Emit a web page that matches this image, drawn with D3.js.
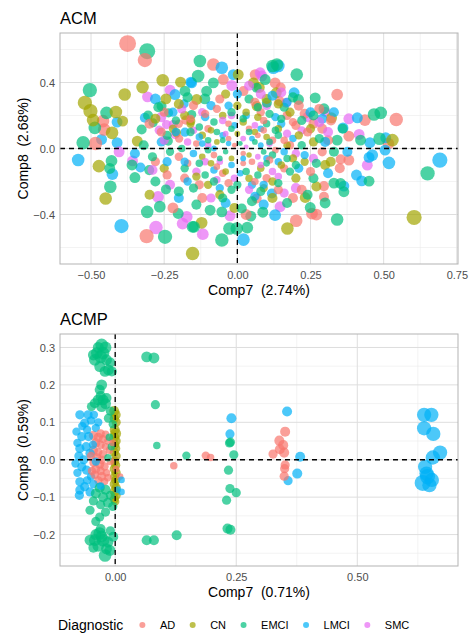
<!DOCTYPE html>
<html><head><meta charset="utf-8">
<script src="https://cdn.jsdelivr.net/npm/d3@7"></script>
<style>body{margin:0;background:#fff} svg{display:block} text{font-family:"Liberation Sans",Arial,Helvetica,sans-serif}</style>
</head><body>
<svg id="chart" width="471" height="635"></svg>
<script>
// ---------- DATA ----------
const diagnostics = ["AD","CN","EMCI","LMCI","SMC"];
const legendTitle = "Diagnostic";

// ACM panel: [Comp7, Comp8, weight]
const acmAD = [[-0.375,0.636,8.5],[-0.316,0.536,7],[-0.459,0.166,6],[-0.455,0.115,6],[-0.485,0.030,6.5],[-0.082,0.509,6],[-0.048,0.418,5],[0.061,0.448,5],[0.129,0.398,5],[0.148,0.37,4.5],[0.021,0.348,4.5],[0.144,0.287,4.5],[0.341,0.327,5.5],[0.436,0.172,5.5],[0.543,0.176,6.5],[0.381,0.075,5],[0.516,0.030,5.5],[0.296,-0.293,4.5],[0.296,-0.228,4.5],[0.381,-0.070,5],[0.353,-0.066,4.5],[-0.310,-0.531,7],[0.201,-0.438,6],[0.255,-0.394,5.5],[0.27,-0.40,5.5],[0.066,-0.303,4.5],[-0.176,0.172,4],[-0.199,0.06,3.5],
[0.23,0.21,4.5],[0.26,0.15,4.5],[0.20,0.14,4],[0.17,0.20,4],[0.29,0.12,4.5],[0.31,0.05,4.5],[0.12,0.05,3],[0.16,-0.12,3.5],[-0.12,-0.30,4.5],[-0.20,-0.05,3.5],[-0.10,0.12,3],[0.05,-0.08,2.5],[-0.05,-0.15,3],[0.22,-0.25,4.5],[-0.25,0.22,4],[-0.15,0.26,4],[-0.07,0.24,3.5],[0.08,0.22,3.5],[0.04,0.12,2.5],[-0.03,0.06,2],[0.02,-0.03,1.8],[-0.08,-0.04,2.5],[0.10,-0.18,3.5],[-0.18,-0.18,4],[-0.28,-0.08,4],[0.35,-0.12,4.5],[0.29,-0.02,4],[0.18,0.02,3.5],[-0.22,-0.36,5],[0.03,-0.40,5],[0.14,-0.25,4],[0.28,0.24,4.5],[-0.30,0.15,4.5],[0.24,0.10,4],[0.32,0.17,4.5],
[-0.14,0.03,2.5],[0.07,0.08,2],[-0.03,0.15,2.5],[0.13,-0.01,2.5],[-0.07,-0.11,2.5],[0.02,-0.09,2],[0.09,0.17,3],[-0.17,-0.09,3],[0.16,0.05,3],[-0.11,0.21,3.5],[0.06,-0.20,3],[-0.01,0.02,1.5],[0.19,0.16,3.5],[-0.20,0.15,3.5],
[-0.26,0.10,4],[-0.16,0.18,3.5],[0.06,0.28,4],[0.21,0.26,4.5],[0.11,-0.07,3],[-0.03,-0.21,3.5],[0.25,-0.14,4],[-0.13,-0.22,4],[0.19,-0.30,4.5],[-0.24,-0.16,4],[0.09,0.11,2.5],[-0.06,0.30,4]];
const acmCN = [[-0.521,0.277,7],[-0.502,0.227,7],[-0.385,0.327,6],[-0.324,0.372,6],[-0.255,0.414,6],[-0.493,0.172,6],[-0.415,0.221,6],[-0.392,0.166,5],[-0.428,0.095,6],[-0.342,0.045,5],[-0.244,0.301,5],[-0.194,0.402,5],[-0.208,0.095,4],[-0.159,0.166,4],[0.003,0.448,5],[0.055,0.398,5],[0.075,0.37,5],[0.133,0.338,5],[0.066,0.257,4.5],[0.322,0.186,5],[0.530,0.051,6],[0.319,-0.080,4.5],[0.604,-0.418,7.5],[-0.473,-0.107,6],[-0.450,-0.303,6],[-0.153,-0.636,6.5],[-0.122,-0.450,5.5],[0.171,-0.485,6],[0.232,-0.297,5],[-0.139,0.297,5],
[0.10,0.30,4.5],[0.18,0.22,4],[0.25,0.12,4],[-0.05,0.20,3],[-0.12,0.08,3],[0.06,0.10,2.5],[-0.02,-0.06,2],[0.08,-0.12,3],[-0.10,-0.22,3.5],[0.12,-0.30,4.5],[-0.25,-0.12,4],[0.20,-0.18,4],[0.30,-0.10,4.5],[-0.18,0.20,4],[0.00,0.26,3.5],[0.14,0.12,3],[-0.06,-0.28,4],[-0.30,-0.28,4.5],[0.04,-0.18,3],[-0.22,0.12,3.5],[0.26,0.04,4],[0.02,0.16,3],[-0.01,-0.36,4.5],[0.19,-0.06,3.5],
[-0.07,0.04,2],[0.04,-0.04,1.8],[0.10,0.07,2.5],[-0.12,-0.05,2.5],[0.00,0.09,2],[0.15,-0.10,3],[-0.04,-0.14,2.5],[0.07,0.19,3],[-0.16,0.15,3.5],[0.12,-0.20,3.5],[-0.09,0.11,2.5],[0.17,0.02,3],
[-0.28,0.18,4.5],[0.21,0.08,3.5],[-0.14,-0.17,3.5],[0.09,-0.24,3.5],[-0.20,0.27,4.5],[0.27,-0.23,4.5],[0.14,0.27,4],[-0.04,0.33,4],[0.23,-0.08,3.5],[-0.09,-0.09,2.5],[0.03,0.22,3]];
const acmEMCI = [[-0.308,0.590,8],[-0.504,0.354,7],[-0.447,0.216,6],[-0.487,0.125,6],[-0.527,0.035,6.5],[-0.327,0.115,4.5],[-0.305,0.200,4.5],[-0.288,0.156,4],[-0.259,0.257,4.5],[-0.179,0.348,5],[-0.235,0.216,4],[-0.236,0.045,4],[-0.156,0.206,4],[-0.128,0.530,6],[-0.134,0.439,6],[-0.082,0.398,5],[-0.105,0.348,5],[-0.111,0.301,5],[0.095,0.418,5],[0.135,0.509,6],[0.12,0.50,6],[0.203,0.448,6],[0.066,0.368,4.5],[0.209,0.297,5],[0.266,0.307,5],[0.101,0.277,4.5],[0.296,0.241,5],[0.467,0.206,6],[0.490,0.216,6],[0.421,0.051,5],[0.486,0.059,6],[0.341,0.051,5],[0.650,-0.151,7],[0.341,-0.430,6],[0.450,-0.198,5],[0.353,-0.212,5],[0.364,-0.262,5],[-0.430,-0.075,5.5],[-0.436,-0.121,5],[-0.434,-0.232,6],[-0.308,-0.384,6],[-0.247,-0.535,7],[-0.265,-0.353,5.5],[-0.350,-0.176,5],[-0.244,-0.248,4.5],[-0.202,-0.394,5],[-0.153,-0.475,5.5],[-0.301,-0.131,4.5],[-0.053,-0.555,6.5],[-0.148,-0.475,5.5],[-0.002,-0.485,6],[-0.027,-0.485,6],[0.034,-0.479,5.5],[0.087,-0.386,5],[0.046,-0.410,5],[-0.053,-0.384,5],[-0.093,-0.374,5],[0.249,-0.358,5],[0.015,-0.364,4.5],[0.30,-0.33,5],
[-0.02,0.22,3.5],[0.04,0.30,4],[0.16,0.25,4],[0.22,0.17,4],[0.10,0.15,3],[-0.08,0.16,3],[-0.16,0.10,3.5],[-0.24,0.08,4],[0.06,0.04,2],[-0.04,-0.02,1.8],[0.12,-0.04,3],[-0.13,-0.09,3],[0.03,-0.14,3],[0.18,-0.14,3.5],[-0.08,-0.20,3.5],[0.08,-0.26,4],[-0.20,-0.26,4.5],[0.26,-0.18,4.5],[0.33,-0.02,4.5],[-0.32,0.02,4.5],[-0.18,-0.12,3.5],[0.14,0.08,3],[-0.02,0.12,2.5],[0.10,-0.09,2.5],[0.00,-0.22,3.5],[0.17,-0.33,4.5],[-0.14,-0.34,4.5],[0.27,-0.09,4],[0.22,0.02,3.5],[-0.10,0.05,2.5],[0.05,-0.32,4.5],[-0.28,-0.20,4.5],[0.36,0.12,4.5],[-0.36,-0.10,5],[0.11,0.21,3.5],[-0.23,-0.02,3.5],[0.24,-0.28,4.5],
[0.01,0.03,1.5],[-0.05,0.05,2],[0.09,-0.02,2],[-0.10,-0.01,2.5],[0.04,0.10,2.5],[-0.06,-0.06,2],[0.13,0.11,3],[-0.13,0.13,3],[0.07,-0.16,3],[-0.11,-0.16,3],[0.17,-0.06,3],[-0.19,0.00,3],[0.02,0.18,3],[-0.02,-0.25,3.5],[0.15,0.18,3.5],
[-0.27,0.25,4.5],[0.19,0.31,4.5],[0.28,0.06,4],[-0.21,0.17,3.5],[0.07,0.25,3.5],[-0.15,-0.24,4],[0.14,-0.21,3.5],[-0.05,-0.30,4],[0.20,-0.10,3.5],[-0.29,-0.05,4],[0.11,0.04,2.5],[-0.07,0.10,2.5],[0.26,0.20,4.5],[-0.17,0.31,4.5],[0.33,-0.21,5]];
const acmLMCI = [[-0.411,0.160,5],[-0.464,0.055,5],[-0.411,0.035,5],[-0.316,0.186,4.5],[-0.213,0.327,5],[-0.159,0.402,5],[-0.182,0.271,4],[-0.179,0.099,4],[-0.053,0.489,6],[-0.014,0.448,5],[-0.156,0.398,5],[0.123,0.489,6],[0.14,0.50,6],[0.194,0.338,5],[0.410,0.186,5],[0.361,0.125,5],[0.453,0.035,5],[0.507,0.065,5],[0.692,-0.070,7.5],[0.518,-0.087,6],[0.505,-0.010,5],[0.461,-0.040,5.5],[0.450,-0.054,5],[0.407,-0.161,5],[0.425,-0.196,5],[0.364,-0.228,5],[0.376,-0.020,4.5],[-0.544,-0.070,6],[-0.427,-0.155,5.5],[-0.396,-0.470,7],[-0.331,-0.115,4.5],[0.021,-0.552,6],[0.129,-0.404,5.5],[0.118,-0.273,4.5],
[0.25,0.22,4.5],[0.29,0.18,4.5],[0.03,0.20,3],[-0.09,0.26,4],[0.15,0.15,3.5],[-0.05,0.08,2.5],[0.08,0.02,2],[-0.02,-0.10,2.5],[-0.15,-0.03,3],[0.14,-0.08,3],[-0.06,-0.24,3.5],[0.05,-0.22,3.5],[-0.26,0.04,4],[0.21,-0.12,4],[0.31,-0.15,4.5],[-0.20,-0.30,4.5],[0.09,-0.34,4.5],[-0.11,0.19,3.5],[0.00,0.33,4],[-0.28,0.30,5],[0.19,0.06,3],[-0.35,-0.03,4.5],[0.12,0.32,4.5],[-0.04,-0.33,4.5],[0.33,0.22,4.5],
[-0.03,0.03,1.8],[0.05,0.06,2],[-0.08,0.00,2],[0.10,-0.06,2.5],[-0.01,0.14,2.5],[0.08,0.12,2.5],[-0.13,0.07,3],[-0.08,-0.13,3],[0.01,-0.15,2.5],[0.16,-0.02,3],[-0.17,-0.20,3.5],[0.09,-0.22,3.5],[-0.21,0.10,3.5],
[-0.22,0.22,4],[0.17,0.28,4],[-0.12,0.03,2.5],[0.23,-0.04,3.5],[-0.24,-0.08,4],[0.06,-0.29,4],[-0.03,0.26,3.5],[0.13,0.19,3.5],[-0.18,-0.08,3.5],[0.30,0.04,4.5],[0.02,-0.06,2]];
const acmSMC = [[-0.307,0.313,5],[-0.230,0.354,5],[-0.267,0.111,4],[-0.242,0.145,4],[-0.219,0.145,4],[-0.213,0.085,4],[-0.019,0.382,5],[0.078,0.459,5],[0.084,0.439,5],[0.167,0.277,4.5],[0.301,0.221,4.5],[0.381,0.180,5],[0.416,0.085,5],[0.444,-0.101,5],[-0.404,-0.020,5],[-0.358,-0.075,5],[-0.278,-0.479,6.5],[-0.271,-0.293,5.5],[-0.173,-0.414,5.5],[-0.187,-0.455,5.5],[-0.118,-0.519,5.5],[-0.025,-0.408,5],[0.146,-0.353,5],
[0.24,0.19,4.5],[0.10,0.26,4],[-0.12,0.22,3.5],[0.02,0.06,2],[-0.06,-0.08,2.5],[0.12,-0.14,3],[-0.17,0.04,3],[0.17,0.09,3.5],[-0.01,-0.18,3],[0.07,-0.05,2],[0.26,-0.06,4],[-0.23,-0.22,4.5],[0.04,0.38,4.5],[0.31,0.10,4.5],[-0.09,-0.30,4],[0.20,-0.24,4.5],[-0.26,0.19,4.5],[0.15,0.34,4.5],[-0.14,-0.14,3.5],
[0.03,0.01,1.5],[-0.04,0.09,2],[0.08,-0.10,2.5],[-0.10,0.02,2.5],[0.11,0.03,2.5],[-0.02,0.20,3],[0.14,-0.17,3],[-0.15,0.11,3],[0.06,0.14,2.5],[-0.07,-0.19,3],[0.20,-0.03,3.5],
[-0.19,0.24,4],[0.08,0.33,4.5],[0.28,0.16,4.5],[-0.25,0.05,4],[0.16,-0.27,4],[-0.11,-0.08,3],[0.04,-0.25,3.5],[0.22,0.11,3.5],[-0.05,0.17,3],[-0.29,-0.13,4.5]];

// ACMP panel: [Comp7, Comp8, weight]
const acmpAD = [[-0.045,0.065,4],[-0.035,0.06,4],[-0.025,0.055,3.5],[-0.040,0.045,4],[-0.030,0.040,3.5],[-0.020,0.035,3],[-0.045,0.025,4],[-0.035,0.020,3.5],[-0.025,0.015,3.5],[-0.038,0.005,4],[-0.028,0.000,3.5],[-0.045,-0.008,3.5],[-0.032,-0.012,4],[-0.022,-0.018,3.5],[-0.040,-0.025,4],[-0.030,-0.030,3.5],[-0.018,-0.035,3],[-0.042,-0.040,3.5],[-0.028,-0.045,4],[-0.035,-0.055,3.5],[-0.022,-0.058,3],[-0.015,0.050,3],[-0.012,0.025,3],[-0.010,-0.005,3],[-0.050,0.010,3.5],[-0.048,-0.030,3.5],[-0.020,0.068,3],[-0.030,0.070,3.5],[0.002,-0.025,2.5],[0.010,-0.045,2.5],[-0.005,0.045,2.5],[-0.015,-0.048,3],
[0.121,-0.016,3],[0.187,0.011,3.5],[0.197,0.006,3],[0.351,0.075,4.5],[0.339,0.051,4.5],[0.347,0.039,4.5],[0.340,0.028,4.5],[0.326,0.015,4],[0.349,0.019,4.5],[0.351,-0.014,4],[0.350,-0.024,4],[0.349,-0.044,4]];
const acmpCN = [[-0.002,0.130,4.5],[0.001,0.120,4.5],[-0.002,0.110,4],[0.002,0.100,4],[-0.001,0.080,4.5],[0.001,0.070,5],[-0.002,0.060,4.5],[0.002,0.050,4],[-0.001,0.040,4],[0.001,0.030,4],[-0.002,0.020,4],[0.002,0.010,4],[-0.001,-0.005,4],[0.001,-0.015,4],[-0.002,-0.025,4],[0.002,-0.035,4],[-0.001,-0.045,4],[0.001,-0.055,4],[-0.002,-0.065,4],[0.002,-0.075,4],[-0.001,-0.085,4.5],[0.001,-0.095,4.5],[-0.002,-0.105,4],[0.000,-0.112,3.5]];
const acmpEMCI = [[-0.028,0.307,6],[-0.038,0.285,5.5],[-0.042,0.267,5.5],[-0.025,0.285,6],[-0.018,0.267,5],[-0.014,0.240,5],[-0.032,0.249,5],[-0.021,0.236,5],[-0.007,0.236,4.5],[-0.030,0.275,6],[-0.020,0.300,5.5],[-0.045,0.280,5],[-0.010,0.260,4.5],[-0.035,0.300,5],
[-0.028,0.200,5],[-0.032,0.187,4.5],[-0.035,0.160,5],[-0.025,0.160,5],[-0.042,0.151,4.5],[-0.028,0.142,5],[-0.018,0.165,4.5],[-0.049,0.142,4],[-0.014,0.111,4],[-0.010,0.130,4],[-0.020,0.150,5],[-0.030,0.170,4.5],[-0.005,0.095,3.5],[-0.012,0.060,3],[-0.008,0.035,3],[-0.015,0.005,3],
[-0.032,-0.075,4.5],[-0.020,-0.080,4.5],[-0.040,-0.090,4.5],[-0.025,-0.100,4.5],[-0.010,-0.095,4],[-0.045,-0.110,4],[-0.015,-0.115,4.5],[-0.030,-0.120,4],[-0.052,-0.135,4],[-0.032,-0.153,4],[-0.040,-0.165,4],[-0.020,-0.140,4],[-0.005,-0.125,4],
[-0.032,-0.197,6],[-0.042,-0.215,5.5],[-0.025,-0.215,6],[-0.052,-0.215,5],[-0.035,-0.230,5.5],[-0.018,-0.238,5],[-0.021,-0.256,6],[-0.011,-0.242,5],[-0.004,-0.206,4.5],[-0.028,-0.205,5.5],[-0.015,-0.220,5],[-0.040,-0.200,5],[-0.045,-0.235,4.5],[-0.030,-0.185,4.5],[-0.010,-0.190,4],
[0.065,0.275,5],[0.080,0.272,5],[0.083,0.147,4],[0.086,0.038,3],[0.147,0.011,3.5],[0.065,-0.215,4.5],[0.080,-0.215,4.5],[0.127,-0.202,4.5],[0.238,0.047,4],[0.245,0.013,4],[0.234,-0.028,4],[0.237,-0.077,4],[0.250,-0.088,4],[0.230,-0.108,4],[0.232,-0.184,4.5],[0.238,-0.187,4.5],[0.236,0.045,4]];
const acmpLMCI = [[-0.073,0.120,4],[-0.056,0.120,4],[-0.044,0.120,3.5],[-0.063,0.098,4],[-0.050,0.105,3.5],[-0.069,0.062,4],[-0.055,0.062,4],[-0.078,0.045,3.5],[-0.073,0.030,4],[-0.060,0.035,4],[-0.052,0.017,4],[-0.075,0.010,4],[-0.065,0.000,4],[-0.069,-0.019,4],[-0.059,-0.028,4],[-0.078,-0.035,3.5],[-0.050,-0.045,3.5],[-0.073,-0.059,4],[-0.063,-0.072,4],[-0.073,-0.081,4],[-0.074,-0.095,4],[-0.052,-0.086,4],[-0.045,-0.065,3.5],[-0.058,0.080,3.5],[-0.040,0.085,3.5],[-0.035,0.100,3.5],[-0.046,0.040,3.5],[-0.040,-0.005,3.5],[-0.080,0.075,3.5],[-0.068,0.090,3.5],[-0.082,-0.010,3.5],[-0.058,-0.055,3.5],[-0.030,-0.070,3],
[0.013,-0.054,2.5],[0.013,-0.086,2.5],[0.005,-0.080,2.5],
[0.240,0.111,4.5],[0.237,0.069,4],[0.355,0.129,4.5],[0.382,0.008,4.5],[0.376,-0.037,4.5],[0.357,-0.056,4],
[0.638,0.120,7],[0.653,0.120,7],[0.638,0.084,7],[0.657,0.069,7],[0.671,0.019,7],[0.656,0.006,7],[0.640,-0.019,7],[0.643,-0.037,7],[0.635,-0.062,8],[0.654,-0.054,7],[0.649,-0.068,7],[0.645,-0.045,7.5]];
const acmpSMC = [[0.000,0.000,3]];

// tick values
const acmXTicks = [-0.5,-0.25,0,0.25,0.5,0.75];
const acmYTicks = [-0.4,0,0.4];
const acmpXTicks = [0,0.25,0.5];
const acmpYTicks = [-0.2,-0.1,0,0.1,0.2,0.3];

// ---------- STYLE ----------
const colors = d3.scaleOrdinal().domain(diagnostics).range(["#F8766D","#A3A500","#00BF7D","#00B0F6","#E76BF3"]);
const rScale = d3.scaleLinear().domain([0,10]).range([1.2,9.7]);
const svg = d3.select("#chart");

function interleave(groups){
  const out=[]; const n=d3.max(groups,g=>g.pts.length);
  for(let i=0;i<n;i++) groups.forEach(g=>{ if(g.pts[i]) out.push({cat:g.cat,x:g.pts[i][0],y:g.pts[i][1],w:g.pts[i][2]}); });
  return out;
}

function midTicks(ticks, domain){
  const step = ticks[1]-ticks[0]; const res=[];
  for(let v=ticks[0]-step/2; v<=domain[1]+1e-9; v+=step) if(v>=domain[0]) res.push(v);
  return res;
}

function panel(cfg, id){
  const {l,r,t,b} = cfg.box;
  const x = d3.scaleLinear().domain(cfg.xDomain).range([l,r]);
  const y = d3.scaleLinear().domain(cfg.yDomain).range([b,t]);
  const g = svg.append("g");
  g.append("clipPath").attr("id","clip"+id).append("rect").attr("x",l).attr("y",t).attr("width",r-l).attr("height",b-t);
  g.selectAll(".mx").data(midTicks(cfg.xTicks,cfg.xDomain)).join("line").attr("x1",d=>x(d)).attr("x2",d=>x(d)).attr("y1",t).attr("y2",b).attr("stroke","#EBEBEB").attr("stroke-width",0.6);
  g.selectAll(".my").data(midTicks(cfg.yTicks,cfg.yDomain)).join("line").attr("y1",d=>y(d)).attr("y2",d=>y(d)).attr("x1",l).attr("x2",r).attr("stroke","#EBEBEB").attr("stroke-width",0.6);
  g.selectAll(".Mx").data(cfg.xTicks.filter(v=>v>=cfg.xDomain[0]&&v<=cfg.xDomain[1])).join("line").attr("x1",d=>x(d)).attr("x2",d=>x(d)).attr("y1",t).attr("y2",b).attr("stroke","#DEDEDE").attr("stroke-width",1);
  g.selectAll(".My").data(cfg.yTicks).join("line").attr("y1",d=>y(d)).attr("y2",d=>y(d)).attr("x1",l).attr("x2",r).attr("stroke","#DEDEDE").attr("stroke-width",1);
  const pts = interleave(diagnostics.map(c=>({cat:c,pts:cfg.data[c]})));
  g.append("g").attr("clip-path",`url(#clip${id})`).selectAll("circle").data(pts).join("circle")
    .attr("cx",d=>x(d.x)).attr("cy",d=>y(d.y)).attr("r",d=>rScale(d.w))
    .attr("fill",d=>colors(d.cat)).attr("fill-opacity",0.7);
  g.append("line").attr("x1",x(0)).attr("x2",x(0)).attr("y1",t).attr("y2",b).attr("stroke","#000").attr("stroke-width",1.3).attr("stroke-dasharray","5,4");
  g.append("line").attr("y1",y(0)).attr("y2",y(0)).attr("x1",l).attr("x2",r).attr("stroke","#000").attr("stroke-width",1.3).attr("stroke-dasharray","5,4");
  g.append("rect").attr("x",l).attr("y",t).attr("width",r-l).attr("height",b-t).attr("fill","none").attr("stroke","#B3B3B3").attr("stroke-width",1);
  const ax = g.append("g").attr("transform",`translate(0,${b})`).call(d3.axisBottom(x).tickValues(cfg.xTicks).tickFormat(d3.format(".2f")).tickSize(0).tickPadding(7.5));
  const ay = g.append("g").attr("transform",`translate(${l},0)`).call(d3.axisLeft(y).tickValues(cfg.yTicks).tickFormat(d3.format(".1f")).tickSize(0).tickPadding(5));
  [ax,ay].forEach(a=>{a.select(".domain").remove(); a.selectAll("text").attr("fill","#4D4D4D").style("font-size","11px").style("font-family","'Liberation Sans',Arial,sans-serif");});
  g.append("text").attr("x",l).attr("y",cfg.titleY).text(cfg.title).style("font-size","16.5px").attr("fill","#000");
  g.append("text").attr("x",(l+r)/2).attr("y",cfg.xlabY).attr("text-anchor","middle").style("white-space","pre").style("font-size","14px").text(cfg.xlab);
  g.append("text").attr("transform",`translate(28,${(t+b)/2}) rotate(-90)`).attr("text-anchor","middle").style("white-space","pre").style("font-size","14px").text(cfg.ylab);
}

panel({box:{l:60,r:458,t:33,b:264}, xDomain:[-0.606,0.754], yDomain:[-0.70,0.70],
  xTicks:acmXTicks, yTicks:acmYTicks, title:"ACM", titleY:23.5, xlab:"Comp7  (2.74%)", xlabY:295, ylab:"Comp8  (2.68%)",
  data:{AD:acmAD,CN:acmCN,EMCI:acmEMCI,LMCI:acmLMCI,SMC:acmSMC}}, 1);
panel({box:{l:60,r:458,t:334,b:566}, xDomain:[-0.114,0.708], yDomain:[-0.284,0.336],
  xTicks:acmpXTicks, yTicks:acmpYTicks, title:"ACMP", titleY:325, xlab:"Comp7  (0.71%)", xlabY:597, ylab:"Comp8  (0.59%)",
  data:{AD:acmpAD,CN:acmpCN,EMCI:acmpEMCI,LMCI:acmpLMCI,SMC:acmpSMC}}, 2);

const lg = svg.append("g");
const lt = lg.append("text").attr("x",58).attr("y",630).style("font-size","14px").text(legendTitle);
let cx = 58 + lt.node().getComputedTextLength() + 19;
diagnostics.forEach(c=>{
  lg.append("circle").attr("cx",cx).attr("cy",625).attr("r",3).attr("fill",colors(c)).attr("fill-opacity",0.7);
  const tx = lg.append("text").attr("x",cx+17.5).attr("y",629).style("font-size","11px").attr("fill","#000").text(c);
  cx = cx + 17.5 + tx.node().getComputedTextLength() + 17.5;
});
</script>
</body></html>
